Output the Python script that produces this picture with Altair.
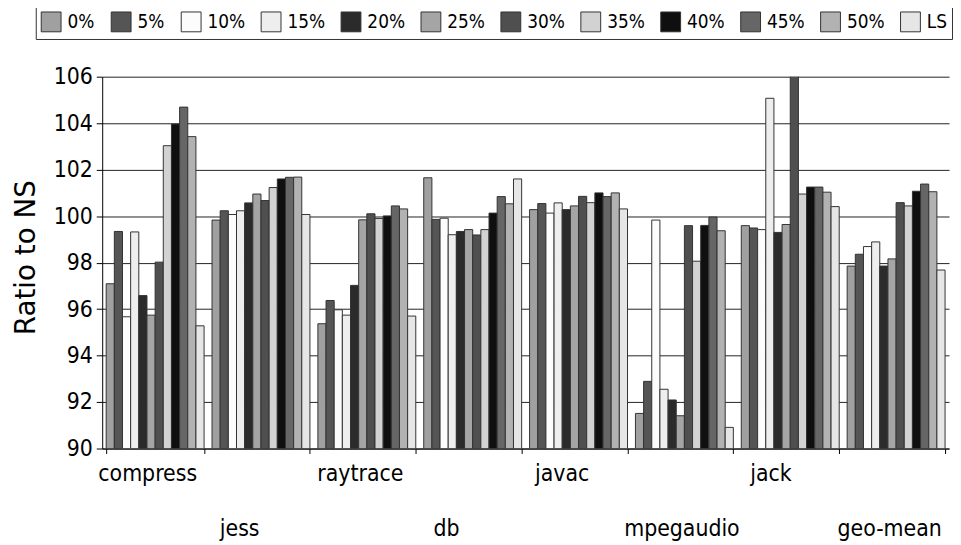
import altair as alt
import pandas as pd

benchmarks = ["compress", "jess", "raytrace", "db", "javac", "mpegaudio", "jack", "geo-mean"]
series = ["0%", "5%", "10%", "15%", "20%", "25%", "30%", "35%", "40%", "45%", "50%", "LS"]
colors = ["#a0a0a0", "#555555", "#fcfcfc", "#eeeeee", "#2b2b2b", "#a5a5a5",
          "#4f4f4f", "#d2d2d2", "#0f0f0f", "#666666", "#b2b2b2", "#e6e6e6"]

compress = [97.09, 99.34, 95.67, 99.32, 96.58, 95.74, 98.02, 103.03, 103.96, 104.69, 103.42, 95.28]
jess = [99.83, 100.23, 100.07, 100.23, 100.57, 100.95, 100.67, 101.23, 101.60, 101.67, 101.68, 100.07]
raytrace = [95.37, 96.37, 95.97, 95.74, 97.02, 99.84, 100.10, 99.90, 100.01, 100.44, 100.31, 95.70]
db = [101.65, 99.86, 99.91, 99.20, 99.34, 99.42, 99.19, 99.42, 100.13, 100.84, 100.53, 101.60]
javac = [100.28, 100.54, 100.13, 100.57, 100.28, 100.44, 100.85, 100.58, 101.00, 100.84, 101.00, 100.31]
mpegaudio = [91.51, 92.89, 99.83, 92.55, 92.09, 91.41, 99.59, 98.06, 99.60, 99.96, 99.37, 90.91]
jack = [99.59, 99.49, 99.42, 105.07, 99.30, 99.64, 106.2, 100.95, 101.25, 101.25, 101.03, 100.41]
geo_mean = [97.85, 98.36, 98.69, 98.89, 97.85, 98.16, 100.58, 100.44, 101.07, 101.38, 101.05, 97.68]

all_values = [compress, jess, raytrace, db, javac, mpegaudio, jack, geo_mean]
y_ticks = [90, 92, 94, 96, 98, 100, 102, 104, 106]
second_row = ["jess", "db", "mpegaudio", "geo-mean"]
label_shift = {"compress": -8, "jess": -22, "raytrace": -7, "db": -27,
               "javac": -17, "mpegaudio": -3, "jack": -20, "geo-mean": -7}

rows = []
for b, vals in zip(benchmarks, all_values):
    for s, v in zip(series, vals):
        rows.append({"bench": b, "series": s, "value": v})
df = pd.DataFrame(rows)

FONT = "DejaVu Sans Condensed, DejaVu Sans"

second_list = ",".join("'%s'" % s for s in second_row)
label_expr = "indexof([%s], datum.value) >= 0 ? ['', datum.value] : datum.value" % second_list

offset_cond = {
    "condition": [{"test": "datum.value === '%s'" % k, "value": v} for k, v in label_shift.items()],
    "value": 0,
}

# pad one-digit labels with a figure space so every legend column has the same width
legend_label_expr = "(length(datum.label) == 2 && datum.label != 'LS') ? datum.label + '\u2007' : datum.label"

chart = alt.Chart(df).mark_bar(stroke="#333333", strokeWidth=1, clip=True).encode(
    x=alt.X("bench:N", sort=benchmarks,
            scale=alt.Scale(paddingInner=0.075, paddingOuter=0.0375),
            axis=alt.Axis(title=None, labelAngle=0, labelFont=FONT, labelFontSize=23,
                          labelColor="#000000", labelExpr=label_expr, labelLineHeight=56,
                          labelPadding=9, labelOverlap=False, labelOffset=offset_cond,
                          tickBand="extent", tickSize=5, tickColor="#000000",
                          domainColor="#000000", grid=False)),
    xOffset=alt.XOffset("series:N", sort=series, scale=alt.Scale(paddingInner=0, paddingOuter=0)),
    y=alt.Y("value:Q", scale=alt.Scale(domain=[90, 106], zero=False, nice=False),
            axis=alt.Axis(title="Ratio to NS", values=y_ticks, labelFont=FONT, labelFontSize=23,
                          labelColor="#000000", labelPadding=4, tickSize=6, tickColor="#000000",
                          domainColor="#000000", gridColor="#222222", gridWidth=1,
                          titleFont="DejaVu Sans", titleFontSize=28, titleFontWeight="normal",
                          titleColor="#000000", titleX=-68, titleY=182, titleBaseline="alphabetic",
                          titleAngle=-90, titleAlign="center")),
    y2=alt.datum(90),
    color=alt.Color("series:N", sort=series,
                    scale=alt.Scale(domain=series, range=colors),
                    legend=alt.Legend(title=None, orient="none", legendX=-67, legendY=-71,
                                      direction="horizontal", columns=12, gridAlign="each",
                                      symbolType="square", symbolSize=400,
                                      symbolStrokeColor="#333333", symbolStrokeWidth=1,
                                      symbolOpacity=1, labelFont=FONT, labelFontSize=19,
                                      labelColor="#000000", labelOffset=6, columnPadding=13.6,
                                      labelExpr=legend_label_expr,
                                      padding=5, strokeColor="#333333")),
).properties(
    width=854, height=375,
    autosize=alt.AutoSizeParams(type="none"),
    padding={"left": 95, "top": 67, "right": 4, "bottom": 92},
).configure_view(stroke=None)

chart.save("out.html", embed_options={"renderer": "svg", "actions": False})
